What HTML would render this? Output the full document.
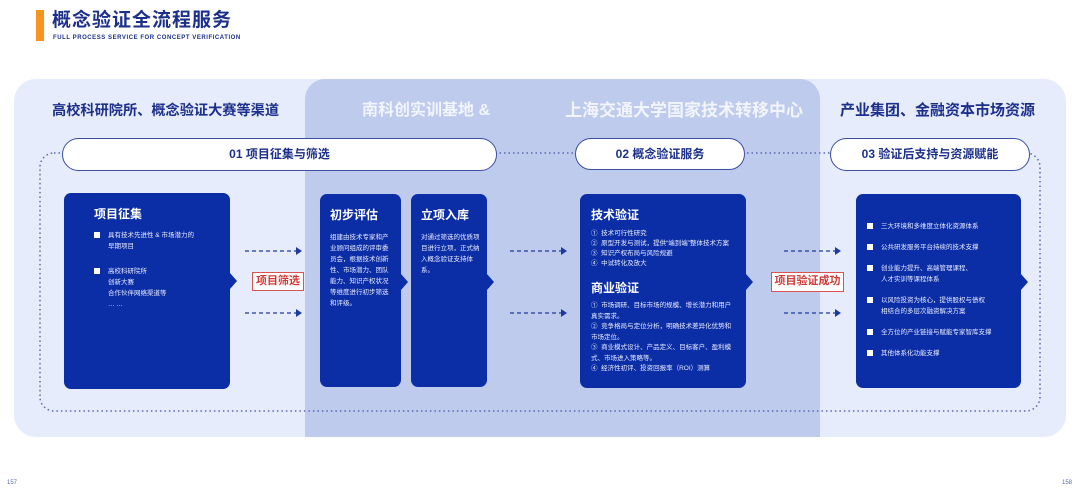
<!DOCTYPE html>
<html><head><meta charset="utf-8"><style>
*{margin:0;padding:0;box-sizing:border-box}
body{width:1080px;height:492px;background:#fff;position:relative;overflow:hidden;font-family:"Liberation Sans","Noto Sans CJK SC",sans-serif}
.a{position:absolute;white-space:nowrap}
.box{position:absolute;background:#0b2da6;border-radius:7px;color:#fff}
.box:after{content:"";position:absolute;right:-7px;top:80px;border-left:7px solid #0b2da6;border-top:8px solid transparent;border-bottom:8px solid transparent}
.h{font-weight:bold;font-size:12px}
.t{font-size:6.5px;line-height:11px;color:#e8ecff}
.pill{position:absolute;background:#fff;border:1px solid #3a4fa5;border-radius:17px;text-align:center;font-weight:bold;font-size:12px;color:#1c2f8a}
.lab{position:absolute;border:1.5px solid #d9534f;background:#fff;color:#d03a36;font-size:11px;font-weight:bold;text-align:center;line-height:16px}
.li{position:relative;padding-left:14px}
.li:before{content:"";position:absolute;left:0;top:2px;width:6px;height:6px;background:#fff}
.hd{font-size:15px;font-weight:bold;line-height:20px}
</style></head><body>
<div class="a" style="left:36px;top:10px;width:8px;height:31px;background:#f7941d"></div>
<div class="a" style="left:52px;top:10px;font-size:19px;line-height:21px;font-weight:bold;color:#1c2f8a;letter-spacing:1px">概念验证全流程服务</div>
<div class="a" style="left:53px;top:35px;font-size:6px;line-height:7px;color:#1c2f8a;font-weight:bold;letter-spacing:0.55px">FULL PROCESS SERVICE FOR CONCEPT VERIFICATION</div>

<div class="a" style="left:14px;top:79px;width:1052px;height:358px;background:#e6ecfc;border-radius:22px"></div>
<div class="a" style="left:305px;top:79px;width:515px;height:358px;background:#bfcbec;border-radius:20px 20px 0 0"></div>

<div class="a hd" style="left:52px;top:101px;font-size:14.2px;color:#1c2f8a">高校科研院所、概念验证大赛等渠道</div>
<div class="a hd" style="left:362px;top:101px;font-size:16px;color:#f2f5fd">南科创实训基地 &amp;</div>
<div class="a hd" style="left:565px;top:101px;font-size:17px;color:#f2f5fd">上海交通大学国家技术转移中心</div>
<div class="a hd" style="left:840px;top:101px;color:#1c2f8a">产业集团、金融资本市场资源</div>

<svg class="a" style="left:0;top:0" width="1080" height="492">
<rect x="40" y="153" width="1000" height="258" rx="14" fill="none" stroke="#5a6ab0" stroke-width="1.5" stroke-dasharray="1.5 3"/>
<g stroke="#1d3a9e" stroke-width="1.3" stroke-dasharray="4 3" fill="none">
<line x1="245" y1="251" x2="296" y2="251"/><line x1="245" y1="313" x2="296" y2="313"/>
<line x1="510" y1="251" x2="561" y2="251"/><line x1="510" y1="313" x2="561" y2="313"/>
<line x1="784" y1="251" x2="835" y2="251"/><line x1="784" y1="313" x2="835" y2="313"/>
</g>
<g fill="#1d3a9e">
<path d="M296 247 L302 251 L296 255Z"/><path d="M296 309 L302 313 L296 317Z"/>
<path d="M561 247 L567 251 L561 255Z"/><path d="M561 309 L567 313 L561 317Z"/>
<path d="M835 247 L841 251 L835 255Z"/><path d="M835 309 L841 313 L835 317Z"/>
</g>
</svg>

<div class="pill" style="left:62px;top:138px;width:435px;height:33px;line-height:31px">01 项目征集与筛选</div>
<div class="pill" style="left:575px;top:138px;width:170px;height:32px;line-height:30px">02 概念验证服务</div>
<div class="pill" style="left:830px;top:138px;width:200px;height:33px;line-height:31px">03 验证后支持与资源赋能</div>

<div class="box" style="left:64px;top:193px;width:166px;height:196px;padding:12px 0 0 30px">
<div class="h" style="margin-bottom:8px">项目征集</div>
<div class="t li">具有技术先进性 &amp; 市场潜力的<br>早期项目</div>
<div class="t li" style="margin-top:14px">高校科研院所<br>创新大赛<br>合作伙伴网络渠道等<br>… …</div>
</div>
<div class="box" style="left:320px;top:194px;width:81px;height:193px;padding:12px 8px 0 10px">
<div class="h" style="margin-bottom:9px">初步评估</div>
<div class="t">组建由技术专家和产业顾问组成的评审委员会，根据技术创新性、市场潜力、团队能力、知识产权状况等维度进行初步筛选和评级。</div>
</div>
<div class="box" style="left:411px;top:194px;width:76px;height:193px;padding:12px 6px 0 10px">
<div class="h" style="margin-bottom:9px">立项入库</div>
<div class="t">对通过筛选的优质项目进行立项，正式纳入概念验证支持体系。</div>
</div>
<div class="box" style="left:580px;top:194px;width:166px;height:194px;padding:12px 10px 0 11px">
<div class="h" style="margin-bottom:6px">技术验证</div>
<div class="t" style="line-height:10px">①&nbsp; 技术可行性研究<br>②&nbsp; 原型开发与测试，提供“端到端”整体技术方案<br>③&nbsp; 知识产权布局与风险规避<br>④&nbsp; 中试转化及放大</div>
<div class="h" style="margin:10px 0 5px">商业验证</div>
<div class="t" style="line-height:10.5px">①&nbsp; 市场调研、目标市场的规模、增长潜力和用户真实需求。<br>②&nbsp; 竞争格局与定位分析，明确技术差异化优势和市场定位。<br>③&nbsp; 商业模式设计、产品定义、目标客户、盈利模式、市场进入策略等。<br>④&nbsp; 经济性初评、投资回报率（ROI）测算</div>
</div>
<div class="box" style="left:856px;top:194px;width:165px;height:194px;padding:27px 6px 0 11px">
<div class="t li">三大环境和多维度立体化资源体系</div>
<div class="t li" style="margin-top:10px">公共研发服务平台持续的技术支撑</div>
<div class="t li" style="margin-top:10px">创业能力提升、高端管理课程、<br>人才实训等课程体系</div>
<div class="t li" style="margin-top:10px">以风险投资为核心，提供股权与债权<br>相结合的多层次融资解决方案</div>
<div class="t li" style="margin-top:10px">全方位的产业链接与赋能专家智库支撑</div>
<div class="t li" style="margin-top:10px">其他体系化功能支撑</div>
</div>

<div class="lab" style="left:252px;top:272px;width:52px;height:19px">项目筛选</div>
<div class="lab" style="left:771px;top:272px;width:73px;height:20px">项目验证成功</div>

<div class="a" style="left:7px;top:480px;font-size:6px;color:#5a6ab0">157</div>
<div class="a" style="left:1062px;top:480px;font-size:6px;color:#5a6ab0">158</div>
</body></html>
